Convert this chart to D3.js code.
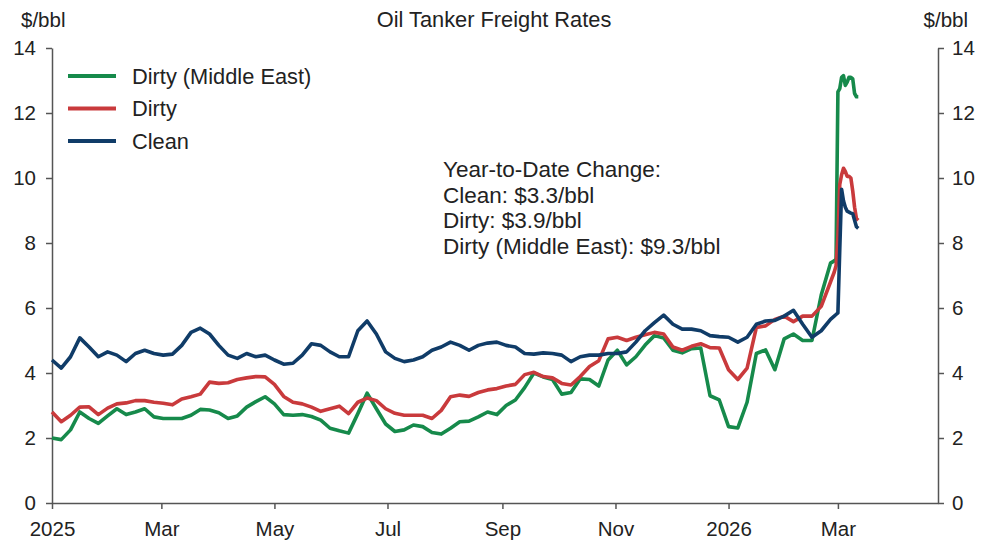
<!DOCTYPE html>
<meta charset="utf-8" />
<style>
  html,
  body {
    margin: 0;
    padding: 0;
    background: #fff;
  }
  #chart {
    width: 991px;
    height: 545px;
    font-family: 'Liberation Sans', Arial, sans-serif;
  }
  .axis path,
  .axis line {
    stroke: #555;
    stroke-width: 1.5px;
  }
  .axis text {
    fill: #222;
    font-size: 20.5px;
    font-family: 'Liberation Sans', Arial, sans-serif;
  }
</style>
<script src="https://d3js.org/d3.v7.min.js"></script>

<div id="chart"></div>

<script>
  // observation dates (5-day steps, daily at the end)
  const dates = [
    '2025-01-01', '2025-01-06', '2025-01-11', '2025-01-16', '2025-01-21', '2025-01-26', '2025-01-31',
    '2025-02-05', '2025-02-10', '2025-02-15', '2025-02-20', '2025-02-25',
    '2025-03-02', '2025-03-07', '2025-03-12', '2025-03-17', '2025-03-22', '2025-03-27',
    '2025-04-01', '2025-04-06', '2025-04-11', '2025-04-16', '2025-04-21', '2025-04-26',
    '2025-05-01', '2025-05-06', '2025-05-11', '2025-05-16', '2025-05-21', '2025-05-26', '2025-05-31',
    '2025-06-05', '2025-06-10', '2025-06-15', '2025-06-20', '2025-06-25', '2025-06-30',
    '2025-07-05', '2025-07-10', '2025-07-15', '2025-07-20', '2025-07-25', '2025-07-30',
    '2025-08-04', '2025-08-09', '2025-08-14', '2025-08-19', '2025-08-24', '2025-08-29',
    '2025-09-03', '2025-09-08', '2025-09-13', '2025-09-18', '2025-09-23', '2025-09-28',
    '2025-10-03', '2025-10-08', '2025-10-13', '2025-10-18', '2025-10-23', '2025-10-28',
    '2025-11-02', '2025-11-07', '2025-11-12', '2025-11-17', '2025-11-22', '2025-11-27',
    '2025-12-02', '2025-12-07', '2025-12-12', '2025-12-17', '2025-12-22', '2025-12-27',
    '2026-01-01', '2026-01-06', '2026-01-11', '2026-01-16', '2026-01-21', '2026-01-26', '2026-01-31',
    '2026-02-05', '2026-02-10', '2026-02-15', '2026-02-20', '2026-02-25',
    '2026-02-27', '2026-02-28', '2026-03-01', '2026-03-02', '2026-03-03', '2026-03-04', '2026-03-05',
    '2026-03-06', '2026-03-07', '2026-03-08', '2026-03-09', '2026-03-10', '2026-03-11', '2026-03-12',
  ];

  // $/bbl
  const dirtyME = [
    2.0, 1.95, 2.25, 2.8, 2.6, 2.45, 2.68,
    2.9, 2.72, 2.8, 2.9, 2.65,
    2.6, 2.6, 2.6, 2.7, 2.88, 2.86,
    2.78, 2.6, 2.68, 2.95, 3.12, 3.27,
    3.05, 2.72, 2.7, 2.72, 2.66, 2.55, 2.3,
    2.22, 2.15, 2.75, 3.38, 2.9, 2.43,
    2.2, 2.25, 2.4, 2.35, 2.17, 2.12,
    2.3, 2.5, 2.52, 2.65, 2.8, 2.72,
    3.0, 3.17, 3.55, 4.0, 3.88, 3.8,
    3.35, 3.4, 3.82, 3.8, 3.6, 4.4,
    4.7, 4.25, 4.5, 4.86, 5.15, 5.08,
    4.7, 4.62, 4.75, 4.77, 3.3, 3.17,
    2.35, 2.31, 3.1, 4.6, 4.71, 4.1, 5.05,
    5.2, 5.0, 5.0, 6.4, 7.38,
    7.45, 7.5, 12.65, 12.75, 13.1, 13.15, 12.85,
    12.95, 13.1, 13.1, 13.05, 12.6, 12.5, 12.5,
  ];
  const dirty = [
    2.8, 2.5, 2.7, 2.95, 2.96, 2.72, 2.92,
    3.05, 3.08, 3.15, 3.15, 3.1,
    3.07, 3.02, 3.2, 3.27, 3.35, 3.72,
    3.68, 3.7, 3.8, 3.85, 3.89, 3.88,
    3.65, 3.28, 3.1, 3.05, 2.95, 2.82, 2.9,
    2.98, 2.75, 3.1, 3.23, 3.15, 2.9,
    2.76, 2.7, 2.7, 2.7, 2.6, 2.85,
    3.27, 3.32, 3.28, 3.4, 3.48, 3.52,
    3.6, 3.65, 3.95, 4.02, 3.89, 3.85,
    3.68, 3.63, 3.89, 4.2, 4.38, 5.05,
    5.1, 5.0, 5.1, 5.18, 5.25, 5.2,
    4.8, 4.7, 4.82, 4.9, 4.78, 4.77,
    4.1, 3.8, 4.15, 5.4, 5.45, 5.65, 5.75,
    5.58, 5.75, 5.75, 6.05, 6.8,
    7.1, 7.3, 8.2, 9.8, 10.1, 10.3, 10.2,
    10.05, 10.05, 10.0, 9.6, 9.1, 8.75, 8.7,
  ];
  const clean = [
    4.4, 4.15, 4.5, 5.08, 4.8, 4.5, 4.65,
    4.55, 4.35, 4.6, 4.7, 4.6,
    4.55, 4.58, 4.85, 5.25, 5.38, 5.2,
    4.85, 4.55, 4.45, 4.6, 4.5, 4.55,
    4.4, 4.27, 4.3, 4.55, 4.9, 4.85, 4.65,
    4.5, 4.5, 5.3, 5.6, 5.2, 4.65,
    4.45, 4.35, 4.4, 4.5, 4.7, 4.8,
    4.95, 4.85, 4.7, 4.85, 4.92, 4.95,
    4.85, 4.8, 4.6, 4.58, 4.62, 4.6,
    4.55, 4.35, 4.5, 4.55, 4.55, 4.6,
    4.6, 4.65, 4.95, 5.3, 5.55, 5.78,
    5.5, 5.35, 5.35, 5.3, 5.15, 5.12,
    5.1, 4.95, 5.1, 5.5, 5.6, 5.62, 5.75,
    5.93, 5.5, 5.1, 5.3, 5.65,
    5.75, 5.8, 5.85, 7.8, 9.65, 9.3, 9.1,
    8.98, 8.95, 8.92, 8.9, 8.7, 8.5, 8.45,
  ];

  const seriesNames = ['Dirty (Middle East)', 'Dirty', 'Clean'];
  const seriesValues = [dirtyME, dirty, clean];
  const seriesColors = ['#168a4b', '#c93a3c', '#103c68'];

  const yTicks = [0, 2, 4, 6, 8, 10, 12, 14];
  const notes = [
    'Year-to-Date Change:',
    'Clean: $3.3/bbl',
    'Dirty: $3.9/bbl',
    'Dirty (Middle East): $9.3/bbl',
  ];

  const W = 991;
  const H = 545;
  const margin = { top: 48, right: 53, bottom: 42, left: 52 };

  const parse = d3.timeParse('%Y-%m-%d');
  const xDates = dates.map(parse);

  const svg = d3
    .select('#chart')
    .append('svg')
    .attr('width', W)
    .attr('height', H);

  const x = d3
    .scaleTime()
    .domain([parse('2025-01-01'), parse('2026-04-24')])
    .range([margin.left, W - margin.right]);

  const y = d3
    .scaleLinear()
    .domain([0, 14])
    .range([H - margin.bottom, margin.top]);

  // axes
  const fmtMonth = d3.timeFormat('%b');
  svg
    .append('g')
    .attr('class', 'axis')
    .attr('transform', `translate(0,${H - margin.bottom})`)
    .call(
      d3
        .axisBottom(x)
        .ticks(d3.timeMonth.every(2))
        .tickSizeOuter(0)
        .tickPadding(12)
        .tickFormat((d) =>
          d.getMonth() === 0 ? d.getFullYear() : fmtMonth(d),
        ),
    );

  svg
    .append('g')
    .attr('class', 'axis')
    .attr('transform', `translate(${margin.left},0)`)
    .call(
      d3.axisLeft(y).tickValues(yTicks).tickSizeOuter(0).tickPadding(10),
    );

  svg
    .append('g')
    .attr('class', 'axis')
    .attr('transform', `translate(${W - margin.right},0)`)
    .call(
      d3.axisRight(y).tickValues(yTicks).tickSizeOuter(0).tickPadding(8),
    );

  // lines
  const line = d3
    .line()
    .x((d) => x(d[0]))
    .y((d) => y(d[1]));

  seriesValues.forEach(function (vals, i) {
    svg
      .append('path')
      .datum(xDates.map((d, j) => [d, vals[j]]))
      .attr('fill', 'none')
      .attr('stroke', seriesColors[i])
      .attr('stroke-width', 3.6)
      .attr('stroke-linejoin', 'round')
      .attr('d', line);
  });

  // title and units
  svg
    .append('text')
    .attr('x', 494)
    .attr('y', 27)
    .attr('text-anchor', 'middle')
    .style('font-size', '21.8px')
    .attr('fill', '#222')
    .text('Oil Tanker Freight Rates');

  svg
    .append('text')
    .attr('x', 21)
    .attr('y', 27)
    .style('font-size', '20.5px')
    .attr('fill', '#222')
    .text('$/bbl');

  svg
    .append('text')
    .attr('x', 968)
    .attr('y', 27)
    .attr('text-anchor', 'end')
    .style('font-size', '20.5px')
    .attr('fill', '#222')
    .text('$/bbl');

  // legend
  const legend = svg
    .append('g')
    .selectAll('g')
    .data(seriesNames)
    .enter()
    .append('g')
    .attr('transform', (d, i) => `translate(68,${76 + i * 32.5})`);

  legend
    .append('line')
    .attr('x1', 0)
    .attr('x2', 48)
    .attr('stroke', (d, i) => seriesColors[i])
    .attr('stroke-width', 4);

  legend
    .append('text')
    .attr('x', 64)
    .attr('dy', '0.35em')
    .style('font-size', '21.8px')
    .attr('fill', '#222')
    .text((d) => d);

  // annotation
  svg
    .append('g')
    .selectAll('text')
    .data(notes)
    .enter()
    .append('text')
    .attr('x', 443)
    .attr('y', (d, i) => 177 + i * 25.7)
    .style('font-size', '22.5px')
    .attr('fill', '#222')
    .text((d) => d);
</script>
